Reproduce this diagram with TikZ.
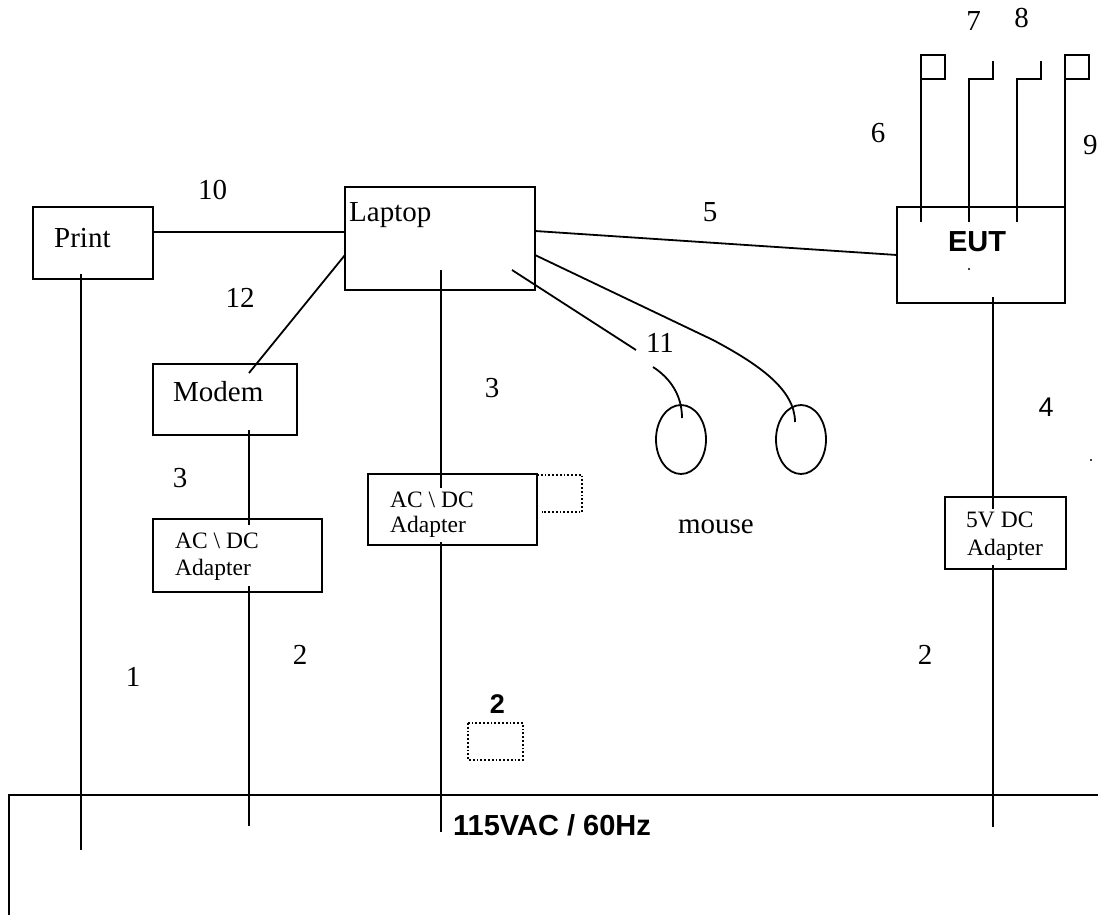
\documentclass[tikz,border=0pt]{standalone}
\usepackage{fontspec}
\usetikzlibrary{shapes.geometric}
\setmainfont{Liberation Serif}
\newfontfamily\arialf{Liberation Sans}
\begin{document}
\begin{tikzpicture}[x=1pt,y=-1pt,
  box/.style={draw,line width=1.8pt,rectangle,inner sep=0pt,outer sep=0pt},
  wire/.style={line width=1.8pt},
  dotbox/.style={line width=1.8pt,dotted},
  lbl/.style={font=\fontsize{29}{32}\selectfont,inner sep=0pt,anchor=base},
  lblw/.style={font=\fontsize{29}{32}\selectfont,inner sep=0pt,anchor=base west},
  small/.style={font=\fontsize{23.5}{26}\selectfont,inner sep=0pt,anchor=base west},
  sanslbl/.style={font=\arialf\fontsize{27}{29}\selectfont,inner sep=0pt,anchor=base},
  boldlbl/.style={font=\arialf\bfseries\fontsize{29}{31}\selectfont,inner sep=0pt,anchor=base},
  mousebody/.style={draw,line width=1.8pt,ellipse,minimum width=50pt,minimum height=69pt,inner sep=0pt}]
\useasboundingbox (0,0) rectangle (1098,915);

% boxes
\node[box,minimum width=120pt,minimum height=72pt] (print) at (93,243) {};
\node[box,minimum width=190pt,minimum height=103pt] (laptop) at (440,238.5) {};
\node[box,minimum width=144pt,minimum height=71pt] (modem) at (225,399.5) {};
\node[box,minimum width=169pt,minimum height=73pt] (ad1) at (237.5,555.5) {};
\node[box,minimum width=169pt,minimum height=71pt] (ad2) at (452.5,509.5) {};
\node[box,minimum width=168pt,minimum height=96pt] (eut) at (981,255) {};
\node[box,minimum width=121pt,minimum height=72pt] (ad3) at (1005.5,533) {};

% box texts
\node[lblw] (tprint) at (54,247) {Print};
\node[lblw] (tlaptop) at (349,221) {Laptop};
\node[lblw] (tmodem) at (173,401) {Modem};
\node[small] (tad1a) at (175,548) {AC \textbackslash\ DC};
\node[small] (tad1b) at (175,575) {Adapter};
\node[small] (tad2a) at (390,507) {AC \textbackslash\ DC};
\node[small] (tad2b) at (390,532) {Adapter};
\node[small] (tad3a) at (966,527) {5V DC};
\node[small] (tad3b) at (967,555) {Adapter};
\node[boldlbl] (teut) at (977,251) {EUT};
\fill (969,269) circle (1.2pt);

% mice
\node[mousebody] (mouse1) at (681,439.5) {};
\node[mousebody] (mouse2) at (801,439.5) {};
\node[lbl] (tmouse) at (716,533) {mouse};

% labels
\node[lbl] (l10) at (212.5,199) {10};
\node[lbl] (l12) at (240,307) {12};
\node[lbl] (l3a) at (180,487) {3};
\node[lbl] (l3b) at (492,397) {3};
\node[lbl] (l5) at (710,222) {5};
\node[lbl] (l11) at (660,352) {11};
\node[lbl] (l7) at (973.5,31) {7};
\node[lbl] (l8) at (1021.5,28) {8};
\node[lbl] (l6) at (878,143) {6};
\node[lblw] (l9) at (1083,155) {9};
\node[sanslbl] (l4) at (1046,416) {4};
\fill (1091,460) circle (1.2pt);
\node[lbl] (l2a) at (300,664) {2};
\node[lbl] (l1) at (133,686) {1};
\node[lbl] (l2b) at (925,664) {2};
\node[boldlbl,font=\arialf\bfseries\fontsize{27}{29}\selectfont] (l2c) at (497.5,713) {2};
\node[boldlbl,anchor=base west] (mains) at (453,835) {115VAC / 60Hz};

% connectors
\draw[wire] (81,274) -- (81,850);
\draw[wire] (print.east |- 0,232) -- (laptop.west |- 0,232);
\draw[wire] (laptop.west |- 0,255) -- (249,373);
\draw[wire] (249,430) -- (249,525);
\draw[wire] (249,586) -- (249,826);
\draw[wire] (441,270) -- (441,488);
\draw[wire] (441,542) -- (441,832);
\draw[wire] (laptop.east |- 0,231) -- (eut.west |- 0,255);
\draw[wire] (512,270) -- (636,350);
\draw[wire] (653,367) .. controls (670,378) and (682,395) .. (682,418);
\draw[wire] (laptop.east |- 0,255) -- (713,340) .. controls (760,365) and (795,390) .. (795,422);
\draw[wire] (993,297) -- (993,509);
\draw[wire] (993,565) -- (993,827);

% EUT top leads
\draw[wire] (921,222) -- (921,55) -- (945,55) -- (945,79) -- (921,79);
\draw[wire] (969,222) -- (969,79) -- (993,79) -- (993,61);
\draw[wire] (1017,222) -- (1017,79) -- (1041,79) -- (1041,61);
\draw[wire] (1065,221) -- (1065,55) -- (1089,55) -- (1089,79) -- (1065,79);

% mains
\draw[wire] (9,915) -- (9,795) -- (1098,795);

% dotted boxes
\draw[dotbox] (537,475) -- (582,475) -- (582,512) -- (542,512);
\draw[dotbox] (468,723) rectangle (523,760);
\end{tikzpicture}
\end{document}
